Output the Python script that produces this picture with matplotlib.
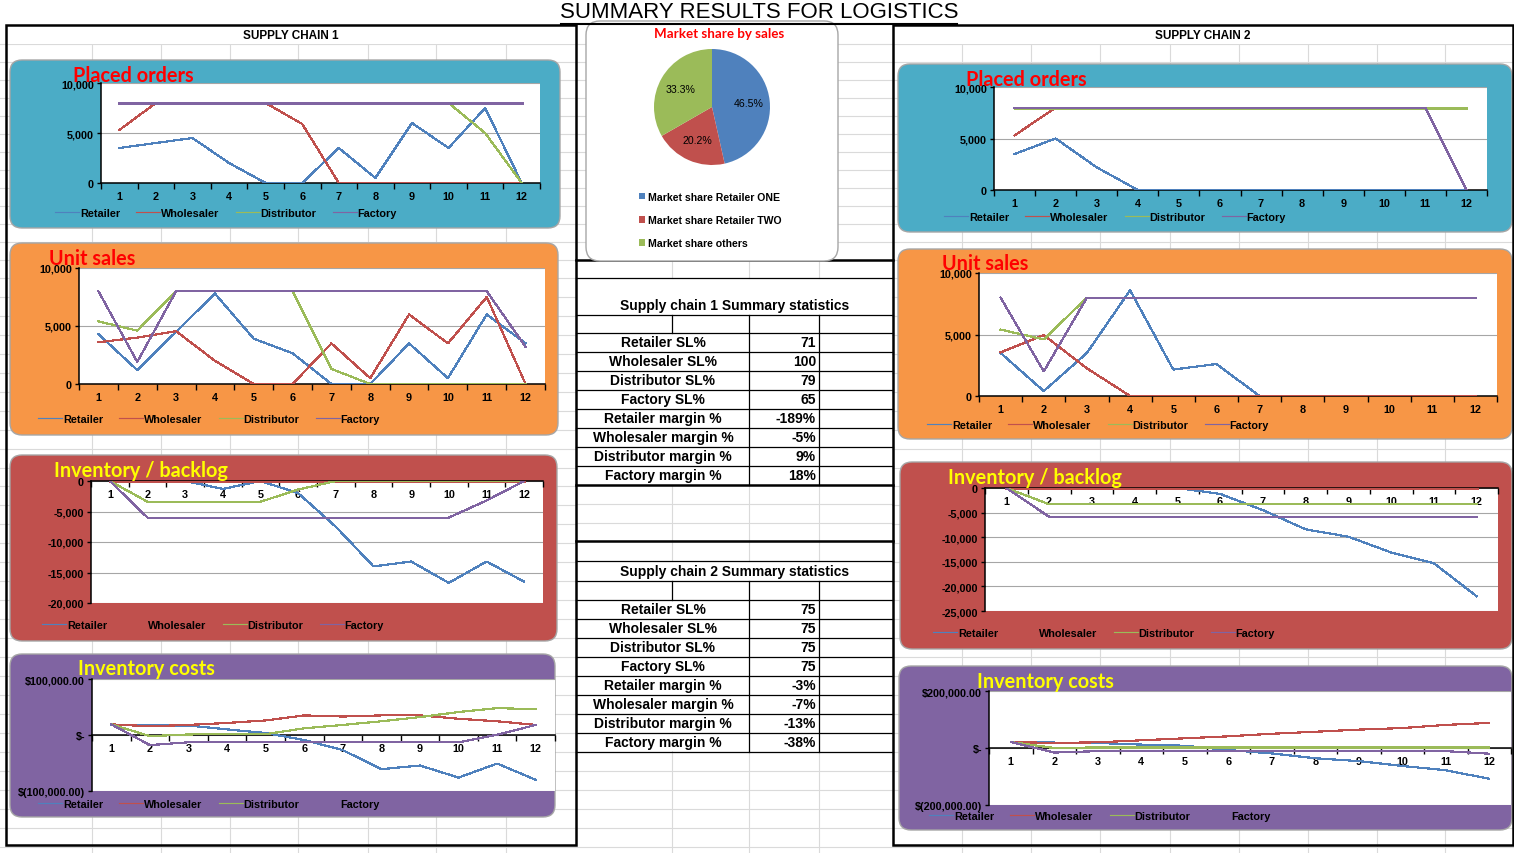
import numpy as np
import matplotlib
matplotlib.use('Agg')
import matplotlib.pyplot as plt
from matplotlib.patches import FancyBboxPatch, Rectangle
from matplotlib import font_manager

# ---- data ----
periods = list(range(1, 13))
roles = ['Retailer', 'Wholesaler', 'Distributor', 'Factory']

# supply chain 1
sc1_orders_retailer = [3500, 4000, 4500, 2000, 0, 0, 3500, 500, 6000, 3500, 7500, 0]
sc1_orders_wholesaler = [5300, 8000, 8000, 8000, 8000, 5900, 0, 0, 0, 0, 0, 0]
sc1_orders_distributor = [8000, 8000, 8000, 8000, 8000, 8000, 8000, 8000, 8000, 8000, 5000, 0]
sc1_orders_factory = [8000, 8000, 8000, 8000, 8000, 8000, 8000, 8000, 8000, 8000, 8000, 8000]

sc1_sales_retailer = [4300, 1200, 4500, 7800, 3900, 2650, 0, 0, 3500, 500, 6000, 3500]
sc1_sales_wholesaler = [3600, 4000, 4550, 2000, 0, 0, 3500, 500, 6000, 3500, 7500, 0]
sc1_sales_distributor = [5400, 4600, 8000, 8000, 8000, 8000, 1300, 0, 0, 0, 0, 0]
sc1_sales_factory = [8000, 1900, 8000, 8000, 8000, 8000, 8000, 8000, 8000, 8000, 8000, 3200]

sc1_inv_retailer = [0, 0, 0, -1300, 0, -2000, -7500, -14000, -13200, -16700, -13200, -16500]
sc1_inv_wholesaler = [0, 0, 0, 0, 0, 0, 0, 0, 0, 0, 0, 0]
sc1_inv_distributor = [0, -3400, -3400, -3400, -3400, -1400, 0, 0, 0, 0, 0, 0]
sc1_inv_factory = [0, -6000, -6000, -6000, -6000, -6000, -6000, -6000, -6000, -6000, -3200, 0]

sc1_cost_retailer = [18600, 17000, 17000, 10000, 3600, -9000, -27000, -61000, -54500, -76000, -51000, -80000]
sc1_cost_wholesaler = [19000, 15600, 18000, 21500, 26000, 35000, 33000, 35000, 35000, 29000, 24500, 18000]
sc1_cost_distributor = [19000, -2000, 1000, 1500, 1500, 12000, 18000, 24500, 32000, 41000, 48000, 46000]
sc1_cost_factory = [19000, -18000, -13000, -13000, -13000, -13000, -13000, -13000, -13000, -13000, 500, 18000]

# supply chain 2
sc2_orders_retailer = [3500, 5000, 2200, 0, 0, 0, 0, 0, 0, 0, 0, 0]
sc2_orders_wholesaler = [5300, 8000, 8000, 8000, 8000, 8000, 8000, 8000, 8000, 8000, 8000, 8000]
sc2_orders_distributor = [8000, 8000, 8000, 8000, 8000, 8000, 8000, 8000, 8000, 8000, 8000, 8000]
sc2_orders_factory = [8000, 8000, 8000, 8000, 8000, 8000, 8000, 8000, 8000, 8000, 8000, 0]

sc2_sales_retailer = [3500, 400, 3500, 8600, 2150, 2600, 0, 0, 0, 0, 0, 0]
sc2_sales_wholesaler = [3550, 4950, 2250, 0, 0, 0, 0, 0, 0, 0, 0, 0]
sc2_sales_distributor = [5400, 4600, 8000, 8000, 8000, 8000, 8000, 8000, 8000, 8000, 8000, 8000]
sc2_sales_factory = [8000, 2000, 8000, 8000, 8000, 8000, 8000, 8000, 8000, 8000, 8000, 8000]

sc2_inv_retailer = [0, 0, 0, 0, 0, -1200, -4500, -8400, -9900, -13100, -15300, -22000]
sc2_inv_wholesaler = [0, 0, 0, 0, 0, 0, 0, 0, 0, 0, 0, 0]
sc2_inv_distributor = [0, -3300, -3300, -3300, -3300, -3300, -3300, -3300, -3300, -3300, -3300, -3300]
sc2_inv_factory = [0, -5850, -5850, -5850, -5850, -5850, -5850, -5850, -5850, -5850, -5850, -5850]

sc2_cost_retailer = [21000, 19000, 17600, 12000, 8000, -7000, -19000, -36000, -46000, -63000, -78000, -108000]
sc2_cost_wholesaler = [21000, 17600, 20000, 27000, 34000, 41000, 50000, 57000, 64500, 70000, 81000, 88000]
sc2_cost_distributor = [21000, 0, 2000, 2000, 2000, 2000, 2000, 2000, 2000, 2000, 2000, 2000]
sc2_cost_factory = [21000, -16000, -11000, -11000, -11000, -11000, -11000, -11000, -11000, -11000, -11000, -20000]

units_ticks = [0, 5000, 10000]
units_labels = ['0', '5,000', '10,000']
inv1_ticks = [-20000, -15000, -10000, -5000, 0]
inv1_labels = ['-20,000', '-15,000', '-10,000', '-5,000', '0']
inv2_ticks = [-25000, -20000, -15000, -10000, -5000, 0]
inv2_labels = ['-25,000', '-20,000', '-15,000', '-10,000', '-5,000', '0']
cost1_ticks = [-100000, 0, 100000]
cost1_labels = ['$(100,000.00)', '$-', '$100,000.00']
cost2_ticks = [-200000, 0, 200000]
cost2_labels = ['$(200,000.00)', '$-', '$200,000.00']

share_labels = ['Market share Retailer ONE', 'Market share Retailer TWO', 'Market share others']
share_values = [46.5, 20.2, 33.3]

stat_labels = ['Retailer SL%', 'Wholesaler SL%', 'Distributor SL%', 'Factory SL%',
               'Retailer margin %', 'Wholesaler margin %', 'Distributor margin %', 'Factory margin %']
sc1_stats = ['71', '100', '79', '65', '-189%', '-5%', '9%', '18%']
sc2_stats = ['75', '75', '75', '75', '-3%', '-7%', '-13%', '-38%']

# ---- styling ----
line_colors = ['#4F81BD', '#C0504D', '#9BBB59', '#8064A2']
names = {f.name for f in font_manager.fontManager.ttflist}
narrow = 'Liberation Sans Narrow' if 'Liberation Sans Narrow' in names else 'Liberation Sans'
arial = 'Liberation Sans'
calibri = 'Lato'

W, H = 1514, 854
fig = plt.figure(figsize=(W / 100, H / 100), dpi=100)


def fx(x):
    return x / W


def fy(y):
    return 1 - y / H


def frect(x0, y0, x1, y1):
    return [x0 / W, 1 - y1 / H, (x1 - x0) / W, (y1 - y0) / H]


bg = fig.add_axes([0, 0, 1, 1])
bg.set_xlim(0, W)
bg.set_ylim(H, 0)
bg.axis('off')

# spreadsheet grid
grid_c = '#DADADA'
rh = 18.95
rows = list(np.arange(45, 262, 18)) + list(279 + rh * np.arange(0, 31))
for y in rows:
    bg.plot([0, W], [y, y], color=grid_c, lw=0.8, zorder=0)
cols = [92, 161, 230, 298, 368, 436, 506, 672, 749, 819, 962, 1031, 1100, 1170, 1239, 1308, 1377, 1445]
for x in cols:
    bg.plot([x, x], [26, H], color=grid_c, lw=0.8, zorder=0)

# centre table area
bg.add_patch(Rectangle((577, 261), 315, 491, fc='white', ec='none', zorder=2))
for x in [672, 749, 819]:
    bg.plot([x, x], [261, 279], color=grid_c, lw=0.8, zorder=3)
    bg.plot([x, x], [486, 562], color=grid_c, lw=0.8, zorder=3)
for y in [486 + rh, 486 + 2 * rh]:
    bg.plot([577, 892], [y, y], color=grid_c, lw=0.8, zorder=3)

t1_rows = [334 + rh * k for k in range(9)]
t2_rows = [601 + rh * k for k in range(9)]
for y in [279, 316] + t1_rows[:-1] + [562, 582] + t2_rows:
    bg.plot([576, 893], [y, y], color='black', lw=0.9, zorder=4)
for y in [261, 486, 542]:
    bg.plot([576, 893], [y, y], color='black', lw=1.8, zorder=4)
for top, rws in [(316, t1_rows), (582, t2_rows)]:
    bg.plot([672, 672], [top, rws[0]], color='black', lw=0.9, zorder=4)
    for x in [749, 819]:
        bg.plot([x, x], [top, rws[-1]], color='black', lw=0.9, zorder=4)

for title, ty, rws, vals in [('Supply chain 1 Summary statistics', 306, t1_rows, sc1_stats),
                             ('Supply chain 2 Summary statistics', 572, t2_rows, sc2_stats)]:
    bg.text(735, ty, title, ha='center', va='center', fontsize=10, fontweight='bold',
            family=arial, zorder=5)
    for i, (lab, val) in enumerate(zip(stat_labels, vals)):
        yc = rws[i] + rh / 2
        bg.text(663, yc, lab, ha='center', va='center', fontsize=10, fontweight='bold',
                family=arial, zorder=5)
        bg.text(816, yc, val, ha='right', va='center', fontsize=10, fontweight='bold',
                family=arial, zorder=5)

# outer boxes
bg.add_patch(Rectangle((6, 26), 570, 820, fill=False, ec='black', lw=1.8, zorder=7))
bg.add_patch(Rectangle((893, 26), 620, 820, fill=False, ec='black', lw=1.8, zorder=7))
bg.add_patch(Rectangle((6, 26), 570, 19, fc='white', ec='none', zorder=1))
bg.add_patch(Rectangle((893, 26), 620, 19, fc='white', ec='none', zorder=1))
bg.text(291, 36, 'SUPPLY CHAIN 1', ha='center', va='center', fontsize=8.5, fontweight='bold',
        family=arial, zorder=8)
bg.text(1203, 36, 'SUPPLY CHAIN 2', ha='center', va='center', fontsize=8.5, fontweight='bold',
        family=arial, zorder=8)

# main title
bg.text(759, 13, 'SUMMARY RESULTS FOR LOGISTICS', ha='center', va='center', fontsize=16,
        family=arial, zorder=8)
bg.plot([561, 957], [24.5, 24.5], color='black', lw=1.5, zorder=8)

# pie box
bg.add_patch(FancyBboxPatch((586, 22), 252, 240, boxstyle='round,pad=0,rounding_size=14',
                            fc='white', ec='#A6A6A6', lw=1, zorder=6))


def draw_chart(panel, plot, color, title, title_xy, title_color, series, yticks, ylabels, legend_xy):
    x0, y0, x1, y1 = panel
    bg.add_patch(FancyBboxPatch((x0, y0), x1 - x0, y1 - y0, boxstyle='round,pad=0,rounding_size=12',
                                fc=color, ec='#A6A6A6', lw=1, zorder=6))
    ax = fig.add_axes(frect(*plot))
    ax.set_facecolor('white')
    for name, vals, c in zip(roles, series, line_colors):
        ax.plot(periods, vals, color=c, lw=0.85, label=name, zorder=3, antialiased=False)
    ax.set_xlim(0.5, 12.5)
    ax.set_ylim(min(yticks), max(yticks))
    ax.set_yticks(yticks)
    ax.set_yticklabels(ylabels)
    ax.yaxis.grid(True, color='#A6A6A6', lw=0.8)
    ax.set_axisbelow(True)
    for s in ['top', 'right']:
        ax.spines[s].set_visible(False)
    ax.spines['bottom'].set_position(('data', 0))
    ax.spines['bottom'].set_linewidth(1.1)
    ax.spines['left'].set_linewidth(1.1)
    ax.set_xticks(periods)
    ax.set_xticklabels([str(p) for p in periods])
    ax.set_xticks(np.arange(0.5, 13, 1), minor=True)
    ax.tick_params(axis='x', which='major', length=0, pad=6, labelsize=7.8)
    ax.tick_params(axis='x', which='minor', length=4, width=1, direction='out')
    ax.tick_params(axis='y', length=3, width=1, labelsize=7.8, pad=2)
    for lab in ax.get_xticklabels() + ax.get_yticklabels():
        lab.set_fontweight('bold')
        lab.set_family(narrow)
    ax.legend(loc='center left', bbox_to_anchor=(fx(legend_xy[0]), fy(legend_xy[1])),
              bbox_transform=fig.transFigure, ncol=4, frameon=False,
              prop=dict(family=arial, weight='bold', size=7.8), handlelength=2.2,
              handletextpad=0.1, columnspacing=1.5, borderpad=0, borderaxespad=0)
    fig.text(fx(title_xy[0]), fy(title_xy[1]), title, color=title_color, fontsize=14.3,
             fontweight='bold', family=calibri, ha='left', va='center', zorder=10)
    return ax


teal, orange, brick, purple = '#4BACC6', '#F79646', '#C0504D', '#8064A2'
red, yellow = '#FF0000', '#FFFF00'

# supply chain 1
draw_chart((10, 61, 560, 229), (101, 84, 540, 184), teal, 'Placed orders', (73, 76), red,
           [sc1_orders_retailer, sc1_orders_wholesaler, sc1_orders_distributor, sc1_orders_factory],
           units_ticks, units_labels, (55, 214))
draw_chart((10, 244, 558, 436), (79, 269, 545, 385), orange, 'Unit sales', (49, 259), red,
           [sc1_sales_retailer, sc1_sales_wholesaler, sc1_sales_distributor, sc1_sales_factory],
           units_ticks, units_labels, (38, 420))
draw_chart((10, 456, 557, 642), (91, 482, 543, 604), brick, 'Inventory / backlog', (54, 471), yellow,
           [sc1_inv_retailer, sc1_inv_wholesaler, sc1_inv_distributor, sc1_inv_factory],
           inv1_ticks, inv1_labels, (42, 626))
draw_chart((10, 655, 555, 818), (92, 680, 555, 792), purple, 'Inventory costs', (78, 669), yellow,
           [sc1_cost_retailer, sc1_cost_wholesaler, sc1_cost_distributor, sc1_cost_factory],
           cost1_ticks, cost1_labels, (38, 805))

# supply chain 2
draw_chart((898, 65, 1512, 233), (994, 88, 1487, 191), teal, 'Placed orders', (966, 80), red,
           [sc2_orders_retailer, sc2_orders_wholesaler, sc2_orders_distributor, sc2_orders_factory],
           units_ticks, units_labels, (944, 218))
draw_chart((898, 250, 1512, 440), (979, 274, 1497, 397), orange, 'Unit sales', (942, 264), red,
           [sc2_sales_retailer, sc2_sales_wholesaler, sc2_sales_distributor, sc2_sales_factory],
           units_ticks, units_labels, (927, 426))
draw_chart((900, 463, 1512, 650), (985, 489, 1498, 612), brick, 'Inventory / backlog', (948, 478), yellow,
           [sc2_inv_retailer, sc2_inv_wholesaler, sc2_inv_distributor, sc2_inv_factory],
           inv2_ticks, inv2_labels, (933, 634))
draw_chart((899, 667, 1512, 831), (989, 692, 1511, 806), purple, 'Inventory costs', (977, 682), yellow,
           [sc2_cost_retailer, sc2_cost_wholesaler, sc2_cost_distributor, sc2_cost_factory],
           cost2_ticks, cost2_labels, (929, 817))

# pie
pax = fig.add_axes(frect(654, 50, 770, 166))
wedges, _, autotexts = pax.pie(share_values, colors=['#4F81BD', '#C0504D', '#9BBB59'],
                               startangle=90, counterclock=False, autopct='%.1f%%',
                               pctdistance=0.63, wedgeprops=dict(linewidth=0),
                               textprops=dict(fontsize=7.6, family=arial))
pax.set_xlim(-1, 1)
pax.set_ylim(-1, 1)
pax.set_aspect('equal')
pax.legend(wedges, share_labels, loc='upper left', bbox_to_anchor=(fx(639), fy(193)),
           bbox_transform=fig.transFigure, frameon=False, handlelength=0.55, handleheight=0.55,
           handletextpad=0.3, labelspacing=1.25, borderpad=0, borderaxespad=0,
           prop=dict(family=arial, weight='bold', size=7.6))
fig.text(fx(719), fy(34), 'Market share by sales', color=red, fontsize=9.6, fontweight='bold',
         family=calibri, ha='center', va='center', zorder=10)

fig.savefig('out.png', dpi=100)
